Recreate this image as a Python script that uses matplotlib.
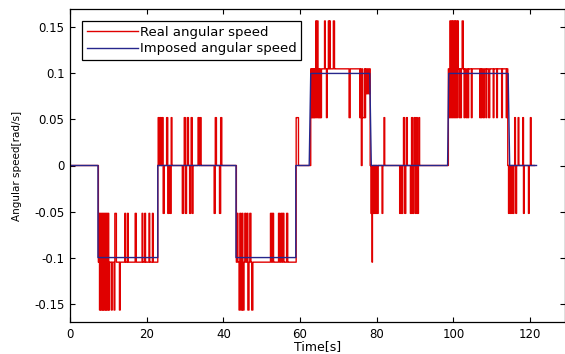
import numpy as np
import matplotlib
matplotlib.use("Agg")
import matplotlib.pyplot as plt

# ---------------- data ----------------
# imposed angular speed (breakpoints, linear between)
imposed_t = [0, 7.3, 7.3, 22.9, 22.9, 43.3, 43.3, 58.9, 58.9, 62.4, 62.8,
             78.2, 78.6, 98.5, 98.8, 114.3, 114.7, 121.7]
imposed_v = [0, 0, -0.1, -0.1, 0, 0, -0.1, -0.1, 0, 0, 0.1,
             0.1, 0, 0, 0.1, 0.1, 0, 0]

# real angular speed: base level segments (start times and levels)
real_base_t = [0, 7.4, 22.9, 43.4, 59.0, 62.8, 78.3, 98.7, 114.2]
real_base_v = [0, -0.105, 0, -0.105, 0, 0.105, 0, 0.105, 0]
real_end = 121.2

# real angular speed: quantisation jumps (start, end, level)
spike_start = [
    7.5, 7.7, 7.9, 8.1, 8.3, 8.5, 8.7, 8.9, 9.1, 9.3, 9.5, 9.7, 9.9, 10.1,
    10.8, 11.5, 11.7, 12.9, 14.3, 15.0, 17.0, 18.8, 19.5, 20.6, 21.5,
    23.0, 23.5, 24.0, 24.3, 25.2, 25.5, 26.1, 26.4,
    29.3, 29.8, 30.1, 30.6, 31.2, 31.6, 31.9, 33.4, 34.0,
    37.6, 37.9, 39.0, 39.3,
    43.5, 44.1, 44.3, 44.6, 44.9, 45.1, 45.6, 46.2, 46.4, 46.9, 47.4,
    52.3, 52.8, 54.4, 55.0, 55.5, 56.5,
    59.0,
    63.0, 63.3, 63.6, 63.9, 64.1, 64.3, 64.5, 64.7, 65.0, 65.3,
    66.4, 66.9, 67.4, 67.7, 68.7, 72.8, 75.6, 75.9, 76.0, 76.3, 76.6, 76.9, 77.3, 77.8,
    78.5, 78.8, 78.9, 79.2, 79.5, 79.8, 80.1,
    81.4, 81.9,
    86.0, 86.3, 86.6, 87.0, 87.3, 87.8,
    88.8, 89.1, 89.4, 89.8, 90.1, 90.4, 90.6, 91.0,
    98.9, 99.1, 99.3, 99.5, 99.7, 99.9, 100.1, 100.3, 100.5, 100.7, 100.9,
    101.1, 101.5, 101.9, 102.3, 102.8, 103.3, 103.8,
    104.7, 106.9, 107.3, 107.8, 108.5, 109.2, 110.4, 111.3, 112.6, 113.8,
    114.4, 114.8, 115.2, 115.6, 116.0, 116.3, 116.9, 118.1, 118.3, 119.6, 120.1,
]
spike_end = [
    7.7, 7.9, 8.1, 8.3, 8.5, 8.7, 8.9, 9.1, 9.3, 9.5, 9.7, 9.9, 10.1, 10.3,
    11.0, 11.7, 12.1, 13.1, 14.5, 15.2, 17.3, 19.0, 19.7, 20.8, 21.7,
    23.3, 23.8, 24.3, 24.6, 25.5, 25.8, 26.4, 26.6,
    29.6, 30.1, 30.4, 30.9, 31.5, 31.9, 32.1, 33.7, 34.2,
    37.9, 38.2, 39.3, 39.6,
    43.8, 44.3, 44.6, 44.9, 45.1, 45.4, 45.9, 46.4, 46.7, 47.2, 47.7,
    52.6, 53.1, 54.7, 55.3, 55.8, 56.8,
    59.6,
    63.2, 63.5, 63.8, 64.1, 64.3, 64.5, 64.7, 64.9, 65.2, 65.6,
    66.6, 67.1, 67.6, 67.9, 69.0, 73.1, 75.8, 76.0, 76.2, 76.6, 76.8, 77.1, 77.6, 78.1,
    78.7, 78.9, 79.1, 79.4, 79.7, 80.0, 80.4,
    81.6, 82.1,
    86.2, 86.5, 86.8, 87.3, 87.6, 88.0,
    89.1, 89.4, 89.7, 90.1, 90.3, 90.6, 90.9, 91.2,
    99.1, 99.3, 99.5, 99.7, 99.9, 100.1, 100.3, 100.5, 100.7, 100.9, 101.1,
    101.3, 101.7, 102.1, 102.6, 103.0, 103.6, 104.0,
    104.9, 107.1, 107.5, 108.1, 108.7, 109.5, 110.6, 111.5, 112.8, 114.0,
    114.6, 115.0, 115.4, 115.8, 116.2, 116.5, 117.1, 118.3, 118.5, 119.8, 120.3,
]
spike_level = [
    -0.052, -0.157, -0.052, -0.157, -0.052, -0.157, -0.052, -0.157, -0.052, -0.157, -0.052, -0.157, -0.052, -0.157,
    -0.157, -0.157, -0.052, -0.157, -0.052, -0.052, -0.052, -0.052, -0.052, -0.052, -0.052,
    0.052, 0.052, 0.052, -0.052, 0.052, -0.052, -0.052, 0.052,
    -0.052, 0.052, -0.052, 0.052, -0.052, 0.052, -0.052, 0.052, 0.052,
    -0.052, 0.052, -0.052, 0.052,
    -0.052, -0.157, -0.052, -0.157, -0.052, -0.157, -0.052, -0.052, -0.157, -0.052, -0.157,
    -0.052, -0.052, -0.052, -0.052, -0.052, -0.052,
    0.052,
    0.052, 0.052, 0.052, 0.052, 0.157, 0.052, 0.157, 0.052, 0.052, 0.052,
    0.157, 0.052, 0.157, 0.157, 0.157, 0.052, 0.052, 0.078, 0.0, 0.052, 0.052, 0.052, 0.078, 0.078,
    -0.052, -0.105, -0.052, -0.052, -0.052, -0.052, -0.052,
    -0.052, 0.052,
    -0.052, -0.052, -0.052, 0.052, -0.052, 0.052,
    -0.052, 0.052, -0.052, 0.052, -0.052, 0.052, -0.052, 0.052,
    0.052, 0.157, 0.052, 0.157, 0.052, 0.157, 0.052, 0.157, 0.052, 0.157, 0.052,
    0.157, 0.052, 0.052, 0.157, 0.052, 0.052, 0.052,
    0.052, 0.052, 0.052, 0.052, 0.052, 0.052, 0.052, 0.052, 0.052, 0.052,
    -0.052, -0.052, -0.052, -0.052, 0.052, -0.052, 0.052, 0.052, -0.052, -0.052, 0.052,
]

x_ticks = [0, 20, 40, 60, 80, 100, 120]
y_ticks = [-0.15, -0.1, -0.05, 0, 0.05, 0.1, 0.15]
y_tick_labels = ["-0.15", "-0.1", "-0.05", "0", "0.05", "0.1", "0.15"]

# ---------------- build real signal ----------------
t = np.arange(0, real_end, 0.01)
idx = np.searchsorted(real_base_t, t, side="right") - 1
real = np.asarray(real_base_v, dtype=float)[idx]
for s, e, lv in zip(spike_start, spike_end, spike_level):
    real[(t >= s) & (t < e)] = lv

# ---------------- plot ----------------
plt.rcParams["font.family"] = ["DejaVu Sans"]
fig = plt.figure(figsize=(5.65, 3.54), dpi=100)
ax = fig.add_axes([70 / 565, 32 / 354, 494.5 / 565, 313 / 354])

red = "#e00000"
blue = "#26268c"
ax.plot(t, real, color=red, lw=1.0, drawstyle="steps-post",
        label="Real angular speed")
ax.plot(imposed_t, imposed_v, color=blue, lw=1.0,
        label="Imposed angular speed")

ax.set_xlim(0, 129)
ax.set_ylim(-0.17, 0.17)
ax.set_xticks(x_ticks)
ax.set_yticks(y_ticks)
ax.set_yticklabels(y_tick_labels)
ax.tick_params(direction="in", top=True, right=True, length=3.5, width=0.8,
               labelsize=8.5, pad=4, colors="black")
for sp in ax.spines.values():
    sp.set_linewidth(0.9)

ax.set_xlabel("Time[s]", fontsize=9)
ax.xaxis.set_label_coords(0.5, -0.058)
ax.set_ylabel("Angular speed[rad/s]", fontsize=7.5)
ax.yaxis.set_label_coords(-0.097, 0.5)

leg = ax.legend(loc="upper left", bbox_to_anchor=(12 / 494.5, 0.962),
                borderaxespad=0, fontsize=9.5, handlelength=3.9,
                handletextpad=0.15, labelspacing=0.3, borderpad=0.35,
                fancybox=False, framealpha=1, edgecolor="black")
leg.get_frame().set_linewidth(0.9)

fig.savefig("out.png", dpi=100)
